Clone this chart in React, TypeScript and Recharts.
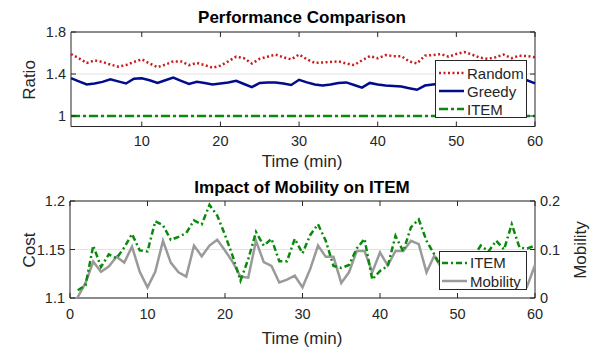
import React from 'react';
import { LineChart, Line, XAxis, YAxis, CartesianGrid, ReferenceArea, Legend } from 'recharts';

// ---------- data ----------
const TIME = [
  1, 2, 3, 4, 5, 6, 7, 8, 9, 10, 11, 12, 13, 14, 15, 16, 17, 18, 19, 20,
  21, 22, 23, 24, 25, 26, 27, 28, 29, 30, 31, 32, 33, 34, 35, 36, 37, 38, 39, 40,
  41, 42, 43, 44, 45, 46, 47, 48, 49, 50, 51, 52, 53, 54, 55, 56, 57, 58, 59, 60,
];

const RANDOM = [
  1.59, 1.55, 1.505, 1.53, 1.515, 1.49, 1.47, 1.485, 1.515, 1.54,
  1.5, 1.465, 1.49, 1.52, 1.52, 1.485, 1.505, 1.485, 1.46, 1.48,
  1.52, 1.565, 1.55, 1.5, 1.545, 1.565, 1.585, 1.56, 1.54, 1.585,
  1.54, 1.505, 1.51, 1.515, 1.52, 1.5, 1.485, 1.53, 1.57, 1.55,
  1.58, 1.57, 1.57, 1.52, 1.5, 1.575, 1.58, 1.59, 1.565, 1.59,
  1.61, 1.585, 1.555, 1.545, 1.56, 1.585, 1.55, 1.575, 1.57, 1.56,
];

const GREEDY = [
  1.36, 1.33, 1.3, 1.31, 1.325, 1.35, 1.33, 1.31, 1.355, 1.36,
  1.34, 1.315, 1.34, 1.365, 1.335, 1.305, 1.325, 1.315, 1.3, 1.31,
  1.32, 1.335, 1.305, 1.275, 1.315, 1.318, 1.32, 1.31, 1.295, 1.345,
  1.32, 1.3, 1.29, 1.3, 1.315, 1.32, 1.295, 1.27, 1.315, 1.3,
  1.29, 1.285, 1.28, 1.265, 1.25, 1.29, 1.3, 1.31, 1.29, 1.3,
  1.32, 1.3, 1.31, 1.29, 1.3, 1.32, 1.31, 1.33, 1.34, 1.31,
];

const ITEM_RATIO = [
  1, 1, 1, 1, 1, 1, 1, 1, 1, 1, 1, 1, 1, 1, 1, 1, 1, 1, 1, 1,
  1, 1, 1, 1, 1, 1, 1, 1, 1, 1, 1, 1, 1, 1, 1, 1, 1, 1, 1, 1,
  1, 1, 1, 1, 1, 1, 1, 1, 1, 1, 1, 1, 1, 1, 1, 1, 1, 1, 1, 1,
];

const ITEM_COST = [
  1.108, 1.113, 1.154, 1.132, 1.145, 1.141, 1.152, 1.166, 1.149, 1.148,
  1.179, 1.175, 1.16, 1.163, 1.167, 1.18, 1.176, 1.196, 1.185, 1.165,
  1.143, 1.118, 1.14, 1.168, 1.154, 1.161, 1.138, 1.138, 1.161, 1.146,
  1.165, 1.176, 1.159, 1.133, 1.131, 1.134, 1.151, 1.161, 1.119, 1.128,
  1.133, 1.164, 1.148, 1.173, 1.181, 1.159, 1.145, 1.13, 1.125, 1.135,
  1.128, 1.142, 1.154, 1.148, 1.159, 1.15, 1.176, 1.152, 1.151, 1.154,
];

const MOBILITY = [
  0.002, 0.031, 0.075, 0.054, 0.065, 0.085, 0.073, 0.106, 0.054, 0.022,
  0.054, 0.118, 0.073, 0.053, 0.044, 0.108, 0.086, 0.108, 0.12, 0.098,
  0.074, 0.044, 0.042, 0.118, 0.074, 0.066, 0.032, 0.038, 0.046, 0.022,
  0.06, 0.108, 0.085, 0.085, 0.031, 0.053, 0.097, 0.097, 0.053, 0.094,
  0.067, 0.097, 0.097, 0.118, 0.111, 0.053, 0.087, 0.06, 0.07, 0.045,
  0.08, 0.05, 0.07, 0.04, 0.075, 0.06, 0.08, 0.05, 0.025, 0.068,
];

const TOP_X_TICKS = [10, 20, 30, 40, 50, 60];
const TOP_Y_TICKS = [1, 1.4, 1.8];
const BOT_X_TICKS = [0, 10, 20, 30, 40, 50, 60];
const COST_TICKS = [1.1, 1.15, 1.2];
const MOB_TICKS = [0, 0.1, 0.2];

// ---------- style ----------
const FONT = '"Liberation Sans", Arial, Helvetica, sans-serif';
const AX = '#262626';
const GRID = '#e3e3e3';
const RED = '#cc1a1a';
const NAVY = '#000c8c';
const GREEN = '#0a8a0a';
const GRAY = '#9a9a9a';
const TICK_FS = 14.5;
const LABEL_FS = 17;

const topData = TIME.map((t, i) => ({ t, random: RANDOM[i], greedy: GREEDY[i], item: ITEM_RATIO[i] }));
const botData = TIME.map((t, i) => ({ t, item: ITEM_COST[i], mobility: MOBILITY[i] }));

function BottomTick(props: any) {
  const { x, y, payload, plotH, gap } = props;
  const ay = y - gap;
  return (
    <g>
      <line x1={x} x2={x} y1={ay} y2={ay - 5} stroke={AX} strokeWidth={1} />
      <line x1={x} x2={x} y1={ay - plotH} y2={ay - plotH + 5} stroke={AX} strokeWidth={1} />
      <text x={x} y={y} dy="0.71em" textAnchor="middle" fill={AX} fontSize={TICK_FS} fontFamily={FONT}>
        {String(payload.value)}
      </text>
    </g>
  );
}

function LeftTick(props: any) {
  const { x, y, payload, plotW, gap, mirror } = props;
  const ax = x + gap;
  return (
    <g>
      <line x1={ax} x2={ax + 5} y1={y} y2={y} stroke={AX} strokeWidth={1} />
      {mirror ? <line x1={ax + plotW} x2={ax + plotW - 5} y1={y} y2={y} stroke={AX} strokeWidth={1} /> : null}
      <text x={x} y={y} dy="0.355em" textAnchor="end" fill={AX} fontSize={TICK_FS} fontFamily={FONT}>
        {String(payload.value)}
      </text>
    </g>
  );
}

function RightTick(props: any) {
  const { x, y, payload, gap } = props;
  const ax = x - gap;
  return (
    <g>
      <line x1={ax} x2={ax - 5} y1={y} y2={y} stroke={AX} strokeWidth={1} />
      <text x={x} y={y} dy="0.355em" textAnchor="start" fill={AX} fontSize={TICK_FS} fontFamily={FONT}>
        {String(payload.value)}
      </text>
    </g>
  );
}

type LegItem = { name: string; color: string; dash?: string };

function LegendBox({ items, w, h, rowH, padTop, sx }: { items: LegItem[]; w: number; h: number; rowH: number; padTop: number; sx: number }) {
  return (
    <div
      style={{
        width: w,
        height: h,
        boxSizing: 'border-box',
        border: `1px solid ${AX}`,
        background: '#fff',
        fontFamily: FONT,
        fontSize: 15,
        color: AX,
        paddingTop: padTop,
        lineHeight: 1,
      }}
    >
      {items.map((it) => (
        <div key={it.name} style={{ display: 'flex', alignItems: 'center', height: rowH }}>
          <svg width={sx + 26} height={10} style={{ display: 'block' }}>
            <line x1={sx} y1={5} x2={sx + 25} y2={5} stroke={it.color} strokeWidth={2.5} strokeDasharray={it.dash} />
          </svg>
          <span style={{ marginLeft: 2, whiteSpace: 'nowrap' }}>{it.name}</span>
        </div>
      ))}
    </div>
  );
}

const TOP_LEG: LegItem[] = [
  { name: 'Random', color: RED, dash: '2 2.5' },
  { name: 'Greedy', color: NAVY },
  { name: 'ITEM', color: GREEN, dash: '9 3 3 3' },
];
const BOT_LEG: LegItem[] = [
  { name: 'ITEM', color: GREEN, dash: '6 3 2 3' },
  { name: 'Mobility', color: GRAY },
];

function TextAt({ x, y, children, rotate, bold, size }: any) {
  return (
    <div
      style={{
        position: 'absolute',
        left: x,
        top: y,
        transform: `translate(-50%, -50%)${rotate ? ` rotate(${rotate}deg)` : ''}`,
        whiteSpace: 'nowrap',
        fontFamily: FONT,
        fontSize: size || LABEL_FS,
        fontWeight: bold ? 'bold' : 'normal',
        color: bold ? '#000' : AX,
        lineHeight: 1,
      }}
    >
      {children}
    </div>
  );
}

export default function App() {
  return (
    <div style={{ position: 'absolute', left: 0, top: 0, width: 594, height: 348, background: '#fff', overflow: 'hidden' }}>
      <div style={{ position: 'absolute', left: 0, top: 0 }}>
        <LineChart width={594} height={170} data={topData} margin={{ top: 32, right: 59, bottom: 13.5, left: 31 }}>
          <CartesianGrid horizontal vertical={false} stroke={GRID} />
          <XAxis
            dataKey="t"
            type="number"
            domain={[1, 60]}
            ticks={TOP_X_TICKS}
            interval={0}
            height={30}
            axisLine={false}
            tickLine={false}
            tickSize={0}
            tickMargin={9}
            tick={(p: any) => <BottomTick {...p} plotH={94.5} gap={9} />}
          />
          <YAxis
            type="number"
            domain={[0.9, 1.8]}
            ticks={TOP_Y_TICKS}
            interval={0}
            width={40}
            axisLine={false}
            tickLine={false}
            tickSize={0}
            tickMargin={5}
            tick={(p: any) => <LeftTick {...p} plotW={464} gap={5} mirror />}
          />
          <ReferenceArea x1={1} x2={60} y1={0.9} y2={1.8} fill="none" stroke={AX} strokeWidth={1} ifOverflow="visible" />
          <Line type="linear" dataKey="item" stroke={GREEN} strokeWidth={2.5} strokeDasharray="9 3 3 3" dot={false} isAnimationActive={false} />
          <Line type="linear" dataKey="greedy" stroke={NAVY} strokeWidth={2.5} dot={false} isAnimationActive={false} />
          <Line type="linear" dataKey="random" stroke={RED} strokeWidth={2.5} strokeDasharray="2 2.5" dot={false} isAnimationActive={false} />
          <Legend
            layout="vertical"
            align="center"
            verticalAlign="middle"
            wrapperStyle={{ left: 435, top: 60, width: 92, height: 58 }}
            content={() => <LegendBox items={TOP_LEG} w={92} h={58} rowH={18} padTop={3} sx={3} />}
          />
        </LineChart>
      </div>
      <div style={{ position: 'absolute', left: 0, top: 170 }}>
        <LineChart width={594} height={178} data={botData} margin={{ top: 31, right: 19, bottom: 20, left: 30 }}>
          <CartesianGrid horizontal vertical={false} stroke={GRID} yAxisId="left" />
          <XAxis
            dataKey="t"
            type="number"
            domain={[0, 60]}
            ticks={BOT_X_TICKS}
            interval={0}
            height={30}
            axisLine={false}
            tickLine={false}
            tickSize={0}
            tickMargin={11}
            tick={(p: any) => <BottomTick {...p} plotH={97} gap={11} />}
          />
          <YAxis
            yAxisId="left"
            type="number"
            domain={[1.1, 1.2]}
            ticks={COST_TICKS}
            interval={0}
            width={40}
            axisLine={false}
            tickLine={false}
            tickSize={0}
            tickMargin={5}
            tick={(p: any) => <LeftTick {...p} plotW={465} gap={5} />}
          />
          <YAxis
            yAxisId="right"
            orientation="right"
            type="number"
            domain={[0, 0.2]}
            ticks={MOB_TICKS}
            interval={0}
            width={40}
            axisLine={false}
            tickLine={false}
            tickSize={0}
            tickMargin={5}
            tick={(p: any) => <RightTick {...p} gap={5} />}
          />
          <ReferenceArea yAxisId="left" x1={0} x2={60} y1={1.1} y2={1.2} fill="none" stroke={AX} strokeWidth={1} ifOverflow="visible" />
          <Line yAxisId="right" type="linear" dataKey="mobility" stroke={GRAY} strokeWidth={2.5} dot={false} isAnimationActive={false} />
          <Line yAxisId="left" type="linear" dataKey="item" stroke={GREEN} strokeWidth={2.5} strokeDasharray="6 3 2 3" dot={false} isAnimationActive={false} />
          <Legend
            layout="vertical"
            align="center"
            verticalAlign="middle"
            wrapperStyle={{ left: 439, top: 80.7, width: 88, height: 39.5 }}
            content={() => <LegendBox items={BOT_LEG} w={88} h={39.5} rowH={18.5} padTop={2} sx={2} />}
          />
        </LineChart>
      </div>

      <TextAt x={302} y={17} bold>Performance Comparison</TextAt>
      <TextAt x={29} y={80} rotate={-90}>Ratio</TextAt>
      <TextAt x={302} y={161}>Time (min)</TextAt>
      <TextAt x={302} y={187} bold>Impact of Mobility on ITEM</TextAt>
      <TextAt x={29} y={250} rotate={-90}>Cost</TextAt>
      <TextAt x={580} y={250} rotate={-90}>Mobility</TextAt>
      <TextAt x={302} y={338}>Time (min)</TextAt>
    </div>
  );
}
